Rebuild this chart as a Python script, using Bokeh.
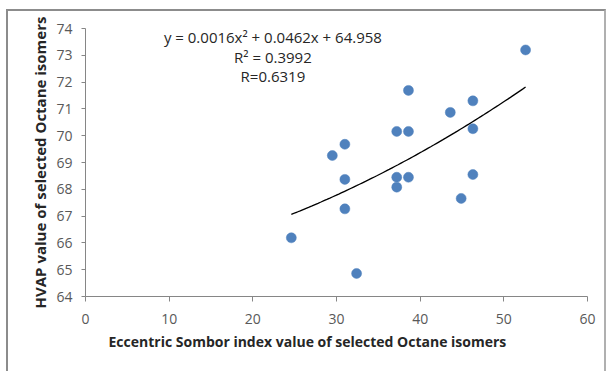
from bokeh.plotting import figure
from bokeh.models import Title, FixedTicker
from bokeh.embed import file_html
from bokeh.resources import INLINE
import numpy as np

# Eccentric Sombor index (x) vs HVAP (y) for selected octane isomers
sombor = [24.6, 29.5, 31.0, 31.0, 31.0, 32.4, 37.2, 37.2, 37.2,
          38.6, 38.6, 38.6, 43.6, 44.9, 46.3, 46.3, 46.3, 52.6]
hvap = [66.19, 69.26, 69.68, 68.37, 67.27, 64.86, 70.16, 68.45, 68.08,
        71.69, 70.16, 68.45, 70.87, 67.66, 71.30, 70.26, 68.55, 73.20]

# quadratic trend line coefficients
coef_a, coef_b, coef_c = 0.0016, 0.0462, 64.958
r_squared = "0.3992"
r_value = "0.6319"

x_ticks = [0, 10, 20, 30, 40, 50, 60]
y_ticks = [64, 65, 66, 67, 68, 69, 70, 71, 72, 73, 74]

FONT = "Open Sans"
LABEL_GRAY = "#595959"
AXIS_GRAY = "#868686"

p = figure(width=600, height=362, output_backend="svg", toolbar_location=None,
           x_range=(0, 60), y_range=(64, 74),
           min_border_left=77, min_border_right=21,
           min_border_top=17, min_border_bottom=77)
# chart-area frame: thin gray rule on the left, top and right
p.margin = (9, 4, 0, 6)
p.styles = {"border-left": "2px solid #8c8c8c", "border-top": "2px solid #8c8c8c",
            "border-right": "2px solid #b0b0b0"}
p.outline_line_color = None
p.grid.visible = False
p.background_fill_color = "white"
p.border_fill_color = "white"

for ax in (p.xaxis[0], p.yaxis[0]):
    ax.axis_line_color = AXIS_GRAY
    ax.major_tick_line_color = AXIS_GRAY
    ax.minor_tick_line_color = None
    ax.major_tick_in = 0
    ax.major_label_text_font = FONT
    ax.major_label_text_font_size = "14px"
    ax.major_label_text_color = LABEL_GRAY

p.xaxis.ticker = FixedTicker(ticks=x_ticks)
p.yaxis.ticker = FixedTicker(ticks=y_ticks)
p.xaxis.major_tick_out = 5
p.yaxis.major_tick_out = 4
p.xaxis.major_label_standoff = 12
p.yaxis.major_label_standoff = 9

p.yaxis.axis_label = "HVAP value of selected Octane isomers"
p.yaxis.axis_label_text_font = FONT
p.yaxis.axis_label_text_font_style = "bold"
p.yaxis.axis_label_text_font_size = "15px"
p.yaxis.axis_label_text_color = "#262626"
p.yaxis.axis_label_standoff = 3

# x-axis title, set slightly left of the frame centre
p.add_layout(Title(text="Eccentric Sombor index value of selected Octane isomers",
                   text_font=FONT, text_font_style="bold", text_font_size="14px",
                   text_color="#262626", align="left", offset=23, standoff=7), "below")

# trend line from the stated coefficients
tx = np.linspace(min(sombor), max(sombor), 80)
ty = coef_a * tx ** 2 + coef_b * tx + coef_c
p.line(tx, ty, line_color="black", line_width=1.3)

p.scatter(sombor, hvap, size=10, fill_color="#4F81BD", line_color="#4F81BD",
          line_width=0.5)

# equation block
eq_lines = [
    ("y = 0.0016x\u00b2 + 0.0462x + 64.958", 73.70),
    ("R\u00b2 = " + r_squared, 72.92),
    ("R=" + r_value, 72.21),
]
for txt, yy in eq_lines:
    p.text(x=[22.4], y=[yy], text=[txt], text_font={"value": FONT}, text_font_size="15px",
           text_color="#262626", text_align="center", text_baseline="middle")

open("out.html", "w").write(file_html(p, INLINE))
